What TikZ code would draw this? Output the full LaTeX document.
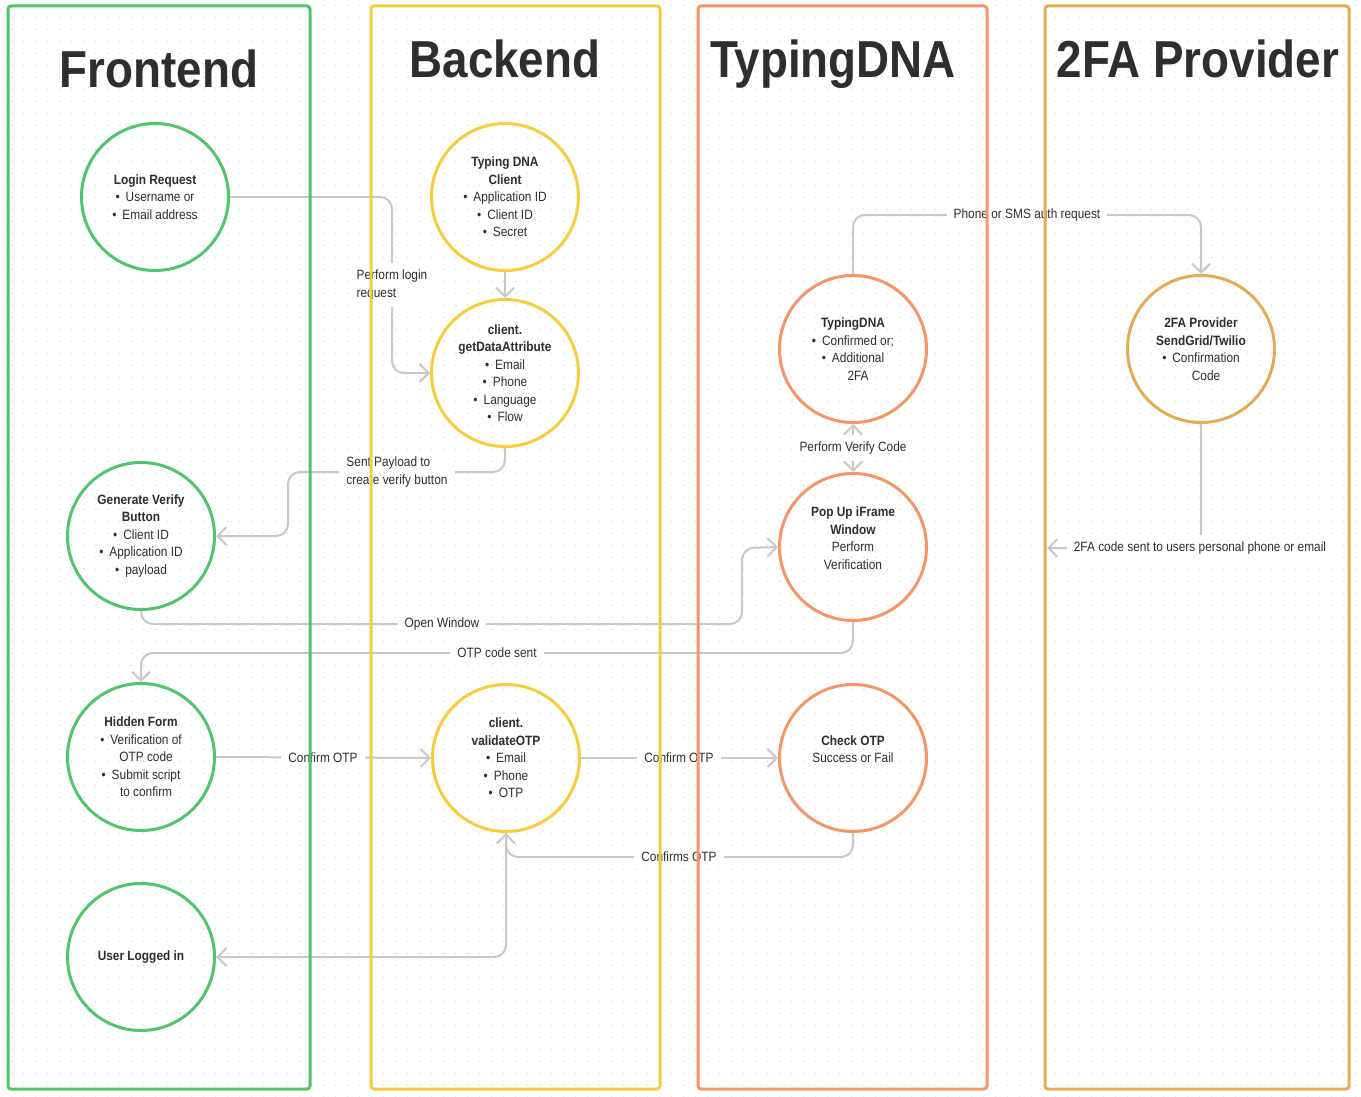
\documentclass[tikz,border=0pt]{standalone}
\usepackage{fontspec}
\setmainfont{Liberation Sans}[FakeStretch=0.88]
\usetikzlibrary{arrows.meta,patterns.meta}
\definecolor{fgreen}{HTML}{52C46E}
\definecolor{fyellow}{HTML}{F6CD3F}
\definecolor{forange}{HTML}{F4956A}
\definecolor{fgold}{HTML}{E3AB55}
\definecolor{conngray}{HTML}{C8C8C8}
\definecolor{ink}{HTML}{2E2E2E}
\definecolor{dotgray}{HTML}{DCDCDC}
\newcommand\bodyfont{\fontsize{6.75pt}{8.75pt}\selectfont}
\newcommand\titlefont{\fontsize{26pt}{30pt}\selectfont\bfseries}
\newcommand\bl{\textbullet\hspace{3pt}}
\newcommand\bc{\phantom{\textbullet\hspace{3pt}}}
\tikzset{
  lane/.style={line width=1.5pt, rounded corners=1.5pt},
  circ/.style={circle, draw=#1, line width=1.5pt, minimum size=73.5pt, inner sep=0pt, align=center, font=\bodyfont, text=ink},
  conn/.style={draw=conngray, line width=1pt, rounded corners=6pt, -{Straight Barb[length=4.5pt,width=9pt]}},
  lbl/.style={fill=white, inner sep=3.5pt, font=\bodyfont, text=ink},
  ttl/.style={font=\titlefont, text=ink, anchor=base},
}
\begin{document}
\begin{tikzpicture}[x=0.5pt, y=-0.5pt]
\useasboundingbox (0,0) rectangle (1361,1097);
\fill[white] (0,0) rectangle (1361,1097);
\fill[pattern={Dots[distance=5.85pt, radius=0.45pt]}, pattern color=dotgray] (0,0) rectangle (1361,1097);

% circles
\node[circ=fgreen] (login) at (155,197) {\textbf{Login Request}\\\bl Username or\\\bl Email address};
\node[circ=fyellow] (tdc) at (505,197) {\textbf{Typing DNA}\\\textbf{Client}\\\bl Application ID\\\bl Client ID\\\bl Secret};
\node[circ=fyellow] (gda) at (505,373) {\textbf{client.}\\\textbf{getDataAttribute}\\\bl Email\\\bl Phone\\\bl Language\\\bl Flow};
\node[circ=fgreen] (gvb) at (141,536) {\textbf{Generate Verify}\\\textbf{Button}\\\bl Client ID\\\bl Application ID\\\bl payload};
\node[circ=fgreen] (hidden) at (141,757) {\textbf{Hidden Form}\\\bl Verification of\\\bc OTP code\\\bl Submit script\\\bc to confirm};
\node[circ=fgreen] (ul) at (141,957) {\textbf{User Logged in}};
\node[circ=fyellow] (vot) at (506,758) {\textbf{client.}\\\textbf{validateOTP}\\\bl Email\\\bl Phone\\\bl OTP};
\node[circ=forange] (tdna) at (853,349) {\textbf{TypingDNA}\\\bl Confirmed or;\\\bl Additional\\\bc 2FA};
\node[circ=forange] (popup) at (853,547) {\textbf{Pop Up iFrame}\\\textbf{Window}\\Perform\\Verification\\~};
\node[circ=forange] (chk) at (853,758) {\textbf{Check OTP}\\Success or Fail\\~};
\node[circ=fgold] (fap) at (1201,349) {\textbf{2FA Provider}\\\textbf{SendGrid/Twilio}\\\bl Confirmation\\\bc Code};
\coordinate (tfin) at (1047,548);

% connectors
\draw[conn] (login.east) -- (392,197) -- (392,373) -- (gda.west);
\draw[conn] (tdc.south) -- (gda.north);
\draw[conn] (gda.south) -- (505,472) -- (288,472) -- (288,536) -- (gvb.east);
\draw[conn] (gvb.south) -- (141,624) -- (742,624) -- (742,548) -- (popup.west);
\draw[conn] (popup.south) -- (853,653) -- (141,653) -- (hidden.north);
\draw[conn] (hidden.east) -- (vot.west);
\draw[conn] (vot.east) -- (chk.west);
\draw[conn] (chk.south) -- (853,857) -- (506,857) -- (vot.south);
\draw[conn] (vot.south) -- (506,957) -- (ul.east);
\draw[conn, {Straight Barb[length=4.5pt,width=9pt]}-{Straight Barb[length=4.5pt,width=9pt]}] (tdna.south) -- (popup.north);
\draw[conn] (tdna.north) -- (853,215) -- (1201,215) -- (fap.north);
\draw[conn] (fap.south) -- (1201,548) -- (tfin);

% labels
\node[lbl, align=left] (l1) at (392,285) {Perform login\\request};
\node[lbl, align=left] (l2) at (397,472) {Sent Payload to\\create verify button};
\node[lbl] (l3) at (442,624) {Open Window};
\node[lbl] (l4) at (497,653) {OTP code sent};
\node[lbl] (l5) at (323,758) {Confirm OTP};
\node[lbl] (l6) at (679,758) {Confirm OTP};
\node[lbl] (l7) at (679,857) {Confirms OTP};
\node[lbl] (l8) at (853,448) {Perform Verify Code};
\node[lbl] (l9) at (1027,215) {Phone or SMS auth request};
\node[lbl] (l10) at (1200,548) {2FA code sent to users personal phone or email};

% lanes
\draw[lane, draw=fgreen] (8,6) rectangle (310,1089);
\draw[lane, draw=fyellow] (371,6) rectangle (660,1089);
\draw[lane, draw=forange] (698,6) rectangle (987,1089);
\draw[lane, draw=fgold] (1045,6) rectangle (1349,1089);

% titles
\node[ttl] (t1) at (159,88) {Frontend};
\node[ttl] (t2) at (505,78) {Backend};
\node[ttl] (t3) at (833,78) {TypingDNA};
\node[ttl] (t4) at (1198,78) {2FA Provider};
\end{tikzpicture}
\end{document}
